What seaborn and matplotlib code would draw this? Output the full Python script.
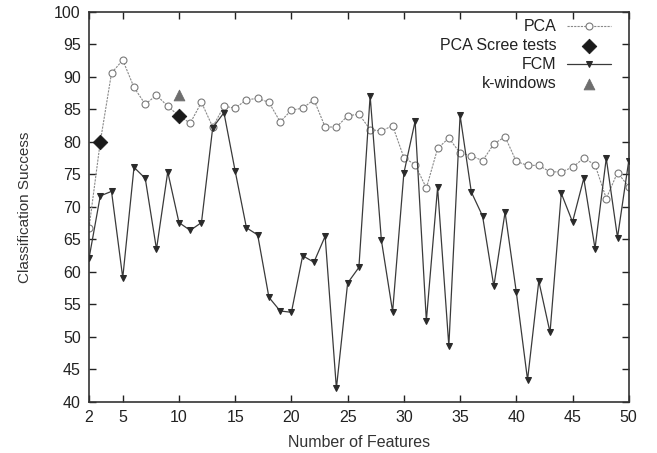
import pandas as pd
import matplotlib
matplotlib.use("Agg")
import matplotlib.pyplot as plt
import seaborn as sns

# Number of features (x axis)
features = list(range(2, 51))

# PCA classification success
pca = [66.8, 80.0, 90.6, 92.6, 88.4, 85.8, 87.2, 85.5, 84.0, 82.9,
       86.1, 82.3, 85.5, 85.2, 86.5, 86.7, 86.1, 83.1, 84.9, 85.2,
       86.5, 82.3, 82.3, 84.0, 84.3, 81.9, 81.7, 82.5, 77.6, 76.5,
       72.9, 79.0, 80.6, 78.3, 77.9, 77.1, 79.7, 80.8, 77.0, 76.4,
       76.4, 75.4, 75.4, 76.1, 77.5, 76.5, 71.3, 75.3, 73.1]

# FCM classification success
fcm = [62.1, 71.7, 72.4, 59.1, 76.1, 74.4, 63.5, 75.4, 67.6, 66.4,
       67.6, 82.2, 84.5, 75.5, 66.8, 65.7, 56.1, 54.0, 53.8, 62.5,
       61.5, 65.5, 42.1, 58.3, 60.7, 87.1, 64.9, 53.9, 75.2, 83.2,
       52.5, 73.0, 48.6, 84.1, 72.3, 68.6, 57.8, 69.2, 56.9, 43.4,
       58.6, 50.7, 72.1, 67.7, 74.4, 63.6, 77.5, 65.3, 77.1]

# PCA Scree tests
scree_x = [3, 10]
scree_y = [80.0, 84.0]

# k-windows
kw_x = [10]
kw_y = [87.3]

xticks = [2, 5, 10, 15, 20, 25, 30, 35, 40, 45, 50]
yticks = list(range(40, 101, 5))

df = pd.DataFrame({"features": features, "PCA": pca, "FCM": fcm})

sns.set_theme(style="ticks")
plt.rcParams["font.family"] = ["Liberation Sans", "DejaVu Sans"]

fig = plt.figure(figsize=(6.57, 4.53), dpi=100)
ax = fig.add_axes([0.1355, 0.1126, 0.8215, 0.861])

sns.lineplot(data=df, x="features", y="PCA", ax=ax, color="#8a8a8a",
             linestyle=(0, (2, 1)), linewidth=0.8, marker="o", markersize=5,
             markerfacecolor="white", markeredgecolor="#7a7a7a",
             markeredgewidth=0.8, label="PCA", zorder=2)
sns.scatterplot(x=scree_x, y=scree_y, ax=ax, marker="D", s=55,
                color="#1a1a1a", edgecolor="#1a1a1a", label="PCA Scree tests",
                zorder=4)
sns.lineplot(data=df, x="features", y="FCM", ax=ax, color="#3a3a3a",
             linewidth=0.9, marker="v", markersize=4.5,
             markerfacecolor="#2a2a2a", markeredgecolor="#2a2a2a",
             label="FCM", zorder=3)
sns.scatterplot(x=kw_x, y=kw_y, ax=ax, marker="^", s=60,
                color="#6e6e6e", edgecolor="#6e6e6e", label="k-windows",
                zorder=4)

ax.set_xlim(2, 50)
ax.set_ylim(40, 100)
ax.set_xticks(xticks)
ax.set_yticks(yticks)
ax.tick_params(direction="in", top=True, right=True, length=5,
               width=1, labelsize=11.5, colors="#222222", pad=6)
for s in ax.spines.values():
    s.set_visible(True)
    s.set_linewidth(1.2)
    s.set_color("#333333")

ax.set_xlabel("Number of Features", fontsize=11.5, color="#333333", labelpad=7)
ax.set_ylabel("Classification Success", fontsize=11, color="#333333", labelpad=16)

leg = ax.legend(loc="upper right", bbox_to_anchor=(0.976, 0.993),
                frameon=False, markerfirst=False,
                fontsize=11.5, handlelength=2.75, labelspacing=0.25,
                borderaxespad=0, borderpad=0.3, handletextpad=0.65)
for t in leg.get_texts():
    t.set_color("#222222")

fig.savefig("out.png", dpi=100)
